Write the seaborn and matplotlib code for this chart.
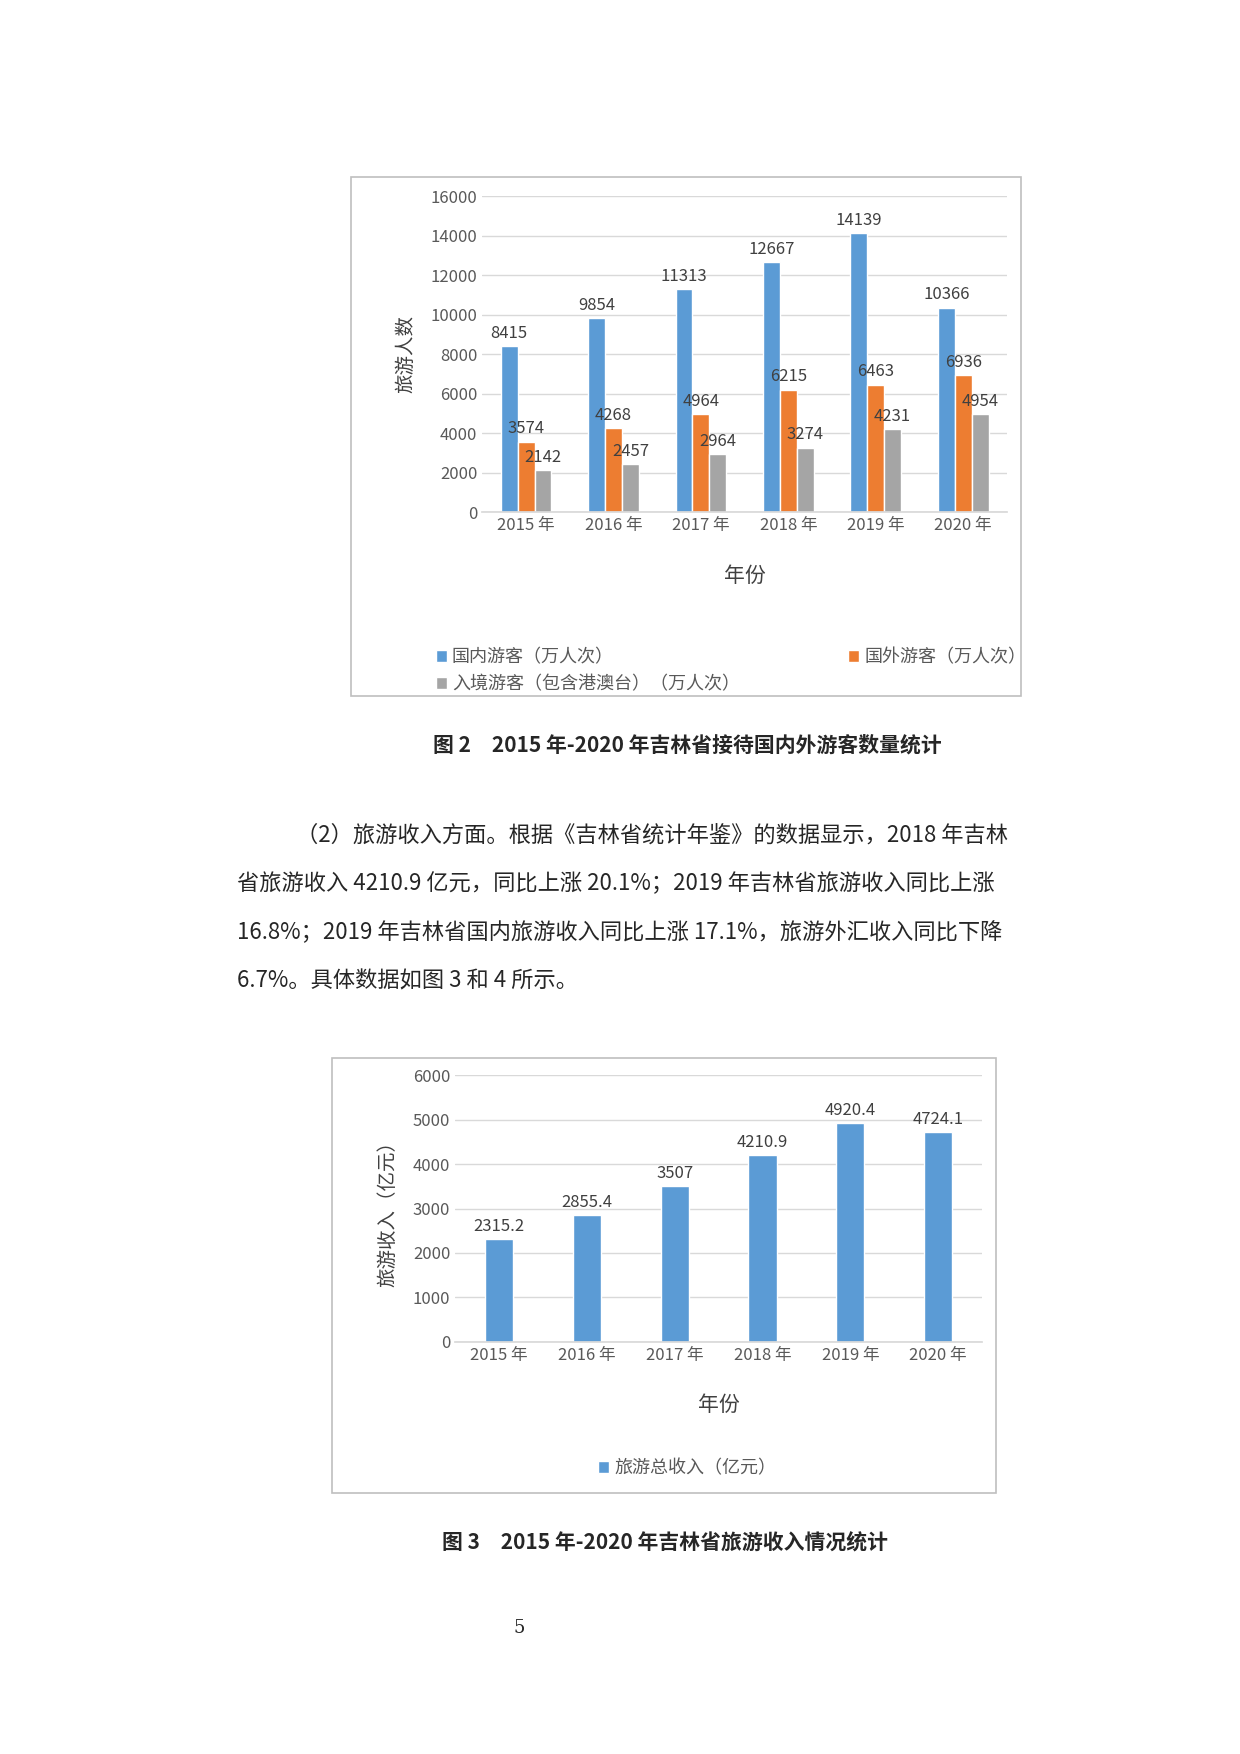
import pandas as pd
import seaborn as sns
import matplotlib.pyplot as plt
from matplotlib.patches import Rectangle

years = ['2015 年', '2016 年', '2017 年', '2018 年', '2019 年', '2020 年']
domestic = [8415, 9854, 11313, 12667, 14139, 10366]
foreign = [3574, 4268, 4964, 6215, 6463, 6936]
inbound = [2142, 2457, 2964, 3274, 4231, 4954]
series_names = ['国内游客（万人次）', '国外游客（万人次）', '入境游客（包含港澳台）（万人次）']
income = [2315.2, 2855.4, 3507, 4210.9, 4920.4, 4724.1]

sns.set_theme(style='white')
plt.rcParams['font.family'] = ['Noto Sans CJK SC', 'DejaVu Sans']
colors = ['#5B9BD5', '#ED7D31', '#A5A5A5']
tc = '#595959'

fig = plt.figure(figsize=(12.4, 17.54), dpi=100)

def frame(l, b, r, t):
    fig.patches.append(Rectangle((l, b), r - l, t - b, transform=fig.transFigure,
                                 fill=False, edgecolor='#BFBFBF', lw=1.2))

def style(ax, ymax, step):
    ax.set_ylim(0, ymax)
    ax.set_yticks(range(0, ymax + 1, step))
    ax.yaxis.grid(True, color='#D9D9D9', lw=1)
    for s in ['top', 'right', 'left']:
        ax.spines[s].set_visible(False)
    ax.spines['bottom'].set_color('#D9D9D9')
    ax.tick_params(axis='both', colors=tc, labelsize=12, length=0)
    ax.set_xlabel('年份', fontsize=15, color='#404040', labelpad=22)

# chart 1
frame(0.283, 0.603, 0.823, 0.899)
df = pd.DataFrame({'year': years * 3,
                   'value': domestic + foreign + inbound,
                   'series': [n for n in series_names for _ in years]})
ax1 = fig.add_axes([0.389, 0.708, 0.423, 0.180])
sns.barplot(data=df, x='year', y='value', hue='series', palette=colors,
            width=0.58, gap=0.0, ax=ax1, saturation=1)
style(ax1, 16000, 2000)
ax1.set_ylabel('旅游人数', fontsize=14, color='#404040', labelpad=10)
for c in ax1.containers:
    ax1.bar_label(c, fmt='%d', fontsize=12, color='#404040', padding=3)
h, l = ax1.get_legend_handles_labels()
ax1.legend([h[0], h[2], h[1]], [l[0], l[2], l[1]], ncol=2, frameon=False,
           loc='upper left', bbox_to_anchor=(-0.12, -0.38), fontsize=13,
           handlelength=0.6, handleheight=0.6, columnspacing=6,
           labelcolor=tc, handletextpad=0.3)

fig.text(0.554, 0.575, '图 2　2015 年-2020 年吉林省接待国内外游客数量统计',
         ha='center', va='center', fontsize=15, weight='bold')

# paragraph
lines = ['（2）旅游收入方面。根据《吉林省统计年鉴》的数据显示，2018 年吉林',
         '省旅游收入 4210.9 亿元，同比上涨 20.1%；2019 年吉林省旅游收入同比上涨',
         '16.8%；2019 年吉林省国内旅游收入同比上涨 17.1%，旅游外汇收入同比下降',
         '6.7%。具体数据如图 3 和 4 所示。']
ys = [0.524, 0.496, 0.468, 0.441]
for i, (t, y) in enumerate(zip(lines, ys)):
    fig.text(0.239 if i == 0 else 0.191, y, t, fontsize=16, va='center')

# chart 2
frame(0.268, 0.149, 0.803, 0.397)
df2 = pd.DataFrame({'year': years, 'value': income})
ax2 = fig.add_axes([0.367, 0.235, 0.425, 0.152])
sns.barplot(data=df2, x='year', y='value', color=colors[0], width=0.32,
            ax=ax2, saturation=1, label='旅游总收入（亿元）')
style(ax2, 6000, 1000)
ax2.set_ylabel('旅游收入（亿元）', fontsize=14, color='#404040', labelpad=10)
ax2.bar_label(ax2.containers[0], labels=[f'{v:g}' for v in income],
              fontsize=12, color='#404040', padding=3)
ax2.legend(frameon=False, loc='upper center', bbox_to_anchor=(0.44, -0.38),
           fontsize=13, handlelength=0.6, handleheight=0.6, labelcolor=tc,
           handletextpad=0.3)

fig.text(0.536, 0.120, '图 3　2015 年-2020 年吉林省旅游收入情况统计',
         ha='center', va='center', fontsize=15, weight='bold')
fig.text(0.419, 0.072, '5', ha='center', va='center', fontsize=13,
         family='DejaVu Serif')

fig.savefig('out.png', dpi=100)
